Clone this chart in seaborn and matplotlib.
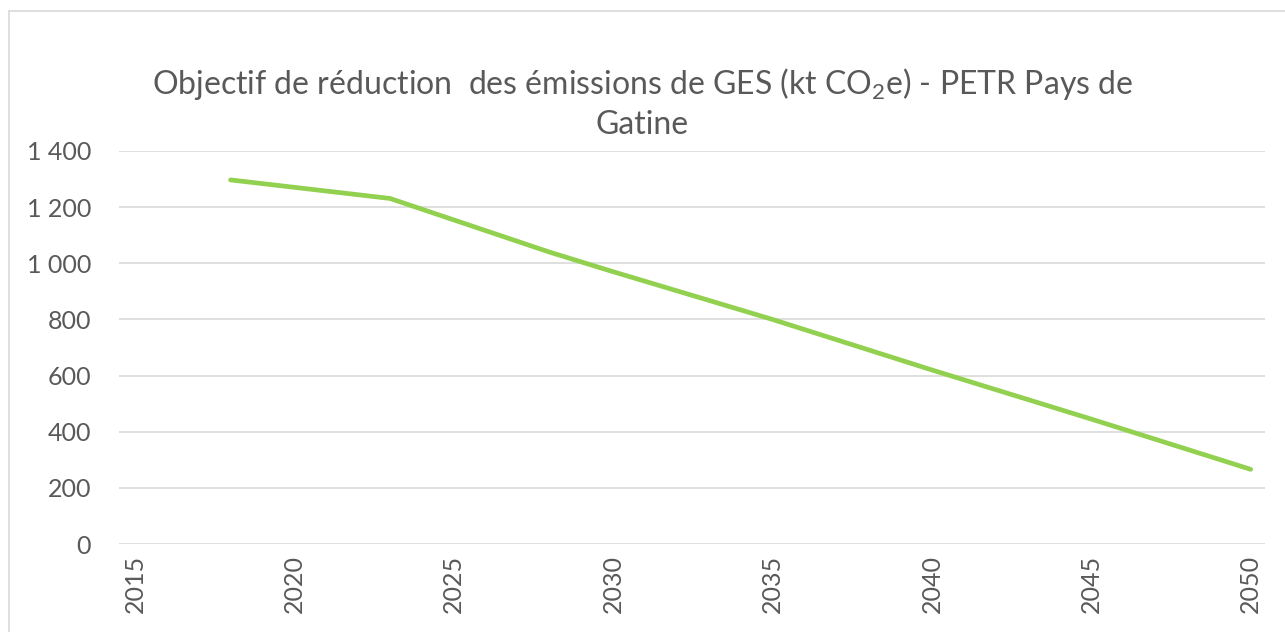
import matplotlib
matplotlib.use("Agg")
import matplotlib.pyplot as plt
from matplotlib.ticker import FuncFormatter
from matplotlib.lines import Line2D
import seaborn as sns

# data
years = [2018, 2023, 2028, 2030, 2035, 2040, 2045, 2050]
emissions = [1297, 1231, 1040, 970, 800, 620, 445, 266]
x_ticks = [2015, 2020, 2025, 2030, 2035, 2040, 2045, 2050]
y_ticks = [0, 200, 400, 600, 800, 1000, 1200, 1400]

sns.set_style("white")
plt.rcParams['font.family'] = ['Lato', 'DejaVu Sans']
plt.rcParams['mathtext.fontset'] = 'custom'
plt.rcParams['mathtext.rm'] = 'Lato'

W, H = 1285, 632
fig = plt.figure(figsize=(W / 100, H / 100), dpi=100)
ax = fig.add_axes([119 / W, 1 - 544 / H, (1265 - 119) / W, (544 - 151) / H])

sns.lineplot(x=years, y=emissions, ax=ax, color="#92d050", linewidth=3.4,
             solid_capstyle="round", solid_joinstyle="round")

ax.set_xlim(2014.5, 2050.45)
ax.set_ylim(0, 1400)
ax.set_xticks(x_ticks)
ax.set_yticks(y_ticks)
ax.yaxis.set_major_formatter(FuncFormatter(lambda v, p: f"{int(v):,}".replace(",", " ")))
ax.tick_params(axis="x", labelrotation=90, length=0, pad=8, labelsize=18, colors="#595959")
ax.tick_params(axis="y", length=0, pad=20, labelsize=18, colors="#595959")
ax.grid(axis="y", color="#d9d9d9", linewidth=1.2)
ax.set_axisbelow(True)
for s in ax.spines.values():
    s.set_visible(False)

fig.text(0.5, 1 - 84 / H, r"Objectif de réduction  des émissions de GES (kt CO$_\mathregular{2}$e) - PETR Pays de",
         ha="center", va="center", fontsize=23, color="#595959")
fig.text(0.5, 1 - 125 / H, "Gatine", ha="center", va="center", fontsize=23, color="#595959")

# outer chart frame (top and left visible)
fig.add_artist(Line2D([9 / W, 1], [1 - 11 / H, 1 - 11 / H], transform=fig.transFigure, color="#d9d9d9", linewidth=1.2))
fig.add_artist(Line2D([9 / W, 9 / W], [0, 1 - 11 / H], transform=fig.transFigure, color="#d9d9d9", linewidth=1.2))

fig.savefig("out.png", dpi=100, facecolor="white")
